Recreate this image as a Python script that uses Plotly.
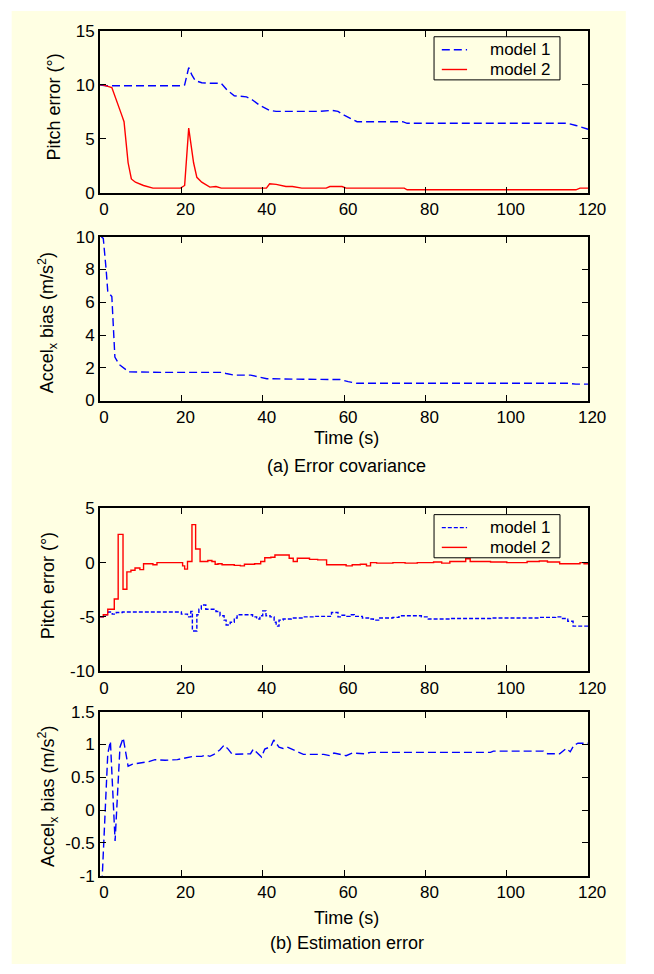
import plotly.graph_objects as go

W, H = 654, 974
CREAM = "#FFFFE3"
BLUE = "#0000FF"
RED = "#FF0000"
FONT = "Liberation Sans, Arial, sans-serif"

# ---------------- data ----------------
series_names = ["model 1", "model 2"]

# (a) Error covariance — pitch error (deg)
cov_pitch_m1_t = [0, 1.5, 5, 10, 15, 20, 20.8, 21.8, 22.6, 23.4, 25, 27, 29.8, 31.3, 33, 36,
                  37.5, 39.3, 41.7, 43.3, 46, 50, 54, 56.9, 58.5, 60, 63.2, 66, 70, 74.4, 75.5,
                  80, 90, 100, 110, 114.9, 117, 120]
cov_pitch_m1_v = [10.0, 9.92, 9.92, 9.92, 9.92, 9.92, 10.0, 11.6, 10.9, 10.4, 10.2, 10.15, 10.15,
                  9.5, 9.0, 8.9, 8.6, 8.1, 7.65, 7.55, 7.55, 7.55, 7.55, 7.65, 7.55, 7.2, 6.6,
                  6.6, 6.6, 6.6, 6.45, 6.45, 6.45, 6.45, 6.45, 6.45, 6.25, 5.9]

cov_pitch_m2_t = [0, 0.7, 2.9, 4.1, 5.25, 5.9, 6.9, 7.7, 8.7, 10.7, 13, 19.8, 20.8, 21.8, 23.0,
                  23.8, 25, 27, 28.5, 29.8, 40.9, 41.7, 43.3, 45.7, 47.3, 49.6, 55.6, 56.5,
                  59.5, 60.5, 74.8, 75.5, 117, 118, 120]
cov_pitch_m2_v = [10.0, 10.0, 9.76, 8.4, 7.3, 6.6, 2.8, 1.3, 1.0, 0.7, 0.45, 0.45, 0.7, 6.0, 2.8,
                  1.45, 1.0, 0.55, 0.6, 0.45, 0.45, 0.85, 0.8, 0.6, 0.6, 0.45, 0.45, 0.6,
                  0.6, 0.45, 0.45, 0.3, 0.3, 0.45, 0.45]

# (a) Error covariance — Accel_x bias (m/s^2)
cov_acc_t = [0.3, 0.8, 1.5, 1.9, 2.9, 3.65, 4.7, 6.0, 7.1, 15, 25, 29.8, 31, 33, 37, 39.5, 41,
             50, 57, 59, 61, 63.2, 80, 100, 115, 117, 120]
cov_acc_v = [10.0, 9.9, 8.0, 6.65, 6.35, 2.65, 2.2, 1.95, 1.75, 1.72, 1.72, 1.72, 1.65, 1.55,
             1.55, 1.4, 1.33, 1.3, 1.32, 1.28, 1.15, 1.05, 1.05, 1.05, 1.05, 1.0, 1.0]

# (b) Estimation error — pitch error (deg)
est_pitch_m1_t = [0, 1, 2, 3, 4, 5.5, 20, 21.5, 22.3, 22.7, 23.8, 24.3, 24.9, 26, 27.5, 28.5,
                  29.5, 30.5, 31, 32, 33, 33.7, 37.5, 38.5, 39.3, 40, 40.8, 41.8, 42.8, 43.3,
                  44, 45, 47, 50, 53, 56.9, 58.5, 59.5, 60.5, 61.5, 62.5, 64.5, 66, 67.2,
                  68.5, 72, 73.5, 79, 80.7, 86, 96, 104, 108, 112, 113.5, 115, 116.3, 120]
est_pitch_m1_v = [-5.0, -4.8, -4.55, -4.75, -4.6, -4.55, -4.75, -5.0, -4.5, -6.3, -4.8, -4.3,
                  -3.9, -4.3, -4.3, -4.5, -4.9, -5.3, -5.75, -5.5, -5.1, -4.8, -5.0, -5.2,
                  -4.9, -4.45, -4.9, -5.0, -5.5, -5.85, -5.3, -5.2, -5.1, -5.0, -4.95, -4.6,
                  -5.0, -4.85, -4.95, -4.8, -4.95, -5.1, -5.2, -5.3, -5.1, -5.05, -4.9,
                  -5.0, -5.2, -5.15, -5.1, -5.1, -5.05, -5.0, -5.15, -5.4, -5.85, -5.85]

est_pitch_m2_t = [0, 0.8, 1.9, 3.5, 4.46, 5.65, 6.6, 7.6, 8.6, 9.8, 10.7, 13, 14, 20.3, 20.8,
                  21.5, 22.6, 23.5, 24.6, 26.5, 27.5, 28.3, 29, 30, 33, 34.5, 35.5, 38, 39.5,
                  40.5, 42, 43, 46.5, 47.5, 48.5, 51.5, 53.5, 55.7, 60.5, 62, 64, 65.5, 66.5,
                  68, 72, 75, 78, 82, 84, 86, 89.9, 91, 96, 100, 105, 108, 110, 113, 118,
                  119, 120]
est_pitch_m2_v = [-5.0, -4.8, -4.3, -3.35, 2.6, -2.45, -0.85, -0.7, -0.5, -0.65, -0.1, -0.2,
                  0.0, -0.3, -0.6, 0.1, 3.5, 1.25, 0.1, 0.2, 0.1, -0.15, -0.1, -0.2, -0.25,
                  -0.3, -0.15, -0.1, 0.1, 0.45, 0.5, 0.7, 0.4, 0.1, 0.4, 0.3, 0.25, -0.2,
                  -0.3, -0.2, -0.15, -0.3, 0.0, -0.05, 0.0, -0.05, 0.0, 0.05, -0.05, 0.1,
                  0.35, 0.1, 0.05, 0.0, 0.1, 0.15, 0.05, -0.1, 0.0, -0.1, 0.05]

# (b) Estimation error — Accel_x bias (m/s^2)
est_acc_t = [0, 0.55, 1.9, 2.55, 3.7, 4.9, 5.7, 6.9, 8, 10, 12, 13.5, 16, 19, 21, 23, 25, 26,
             27, 28, 29.5, 30.5, 31.5, 32.5, 37, 37.7, 39.7, 40.5, 42, 42.7, 44, 45, 46, 47,
             49, 50, 55, 56.5, 57.5, 59.5, 60.5, 62, 65, 66.5, 80, 96, 96.7, 109, 110, 113,
             114.6, 115.6, 116.5, 117.5, 120]
est_acc_v = [-1.3, -1.0, 0.86, 1.05, -0.47, 0.96, 1.1, 0.67, 0.7, 0.72, 0.74, 0.77, 0.76, 0.77,
             0.8, 0.82, 0.82, 0.84, 0.82, 0.85, 0.92, 0.99, 0.93, 0.85, 0.86, 0.93, 0.81,
             0.93, 0.97, 1.07, 0.96, 0.94, 0.96, 0.93, 0.88, 0.85, 0.85, 0.83, 0.87, 0.85,
             0.83, 0.87, 0.86, 0.88, 0.88, 0.88, 0.9, 0.9, 0.86, 0.86, 0.94, 0.89, 0.99,
             1.02, 1.02]

x_ticks = [0, 20, 40, 60, 80, 100, 120]
y1_ticks = [0, 5, 10, 15]
y2_ticks = [0, 2, 4, 6, 8, 10]
y3_ticks = [-10, -5, 0, 5]
y4_ticks = [-1, -0.5, 0, 0.5, 1, 1.5]
y3_labels = ["-10", "-5", "0", "5"]
y4_labels = ["-1", "-0.5", "0", "0.5", "1", "1.5"]

# ---------------- layout helpers (pixel -> paper) ----------------
def fx(p):
    return p / W


def fy(p):
    return 1 - p / H


X0, X1 = 102, 604.7
panels = [(22.3, 187.7), (232.3, 399.3), (509.3, 675.3), (716.7, 884.0)]

fig = go.Figure()

DASH = "8px,4px"
DASH_FINE = "4px,2px"
LW = 1.4

fig.add_trace(go.Scatter(x=cov_pitch_m1_t, y=cov_pitch_m1_v, mode="lines", name=series_names[0],
                         line=dict(color=BLUE, width=LW, dash=DASH), xaxis="x", yaxis="y"))
fig.add_trace(go.Scatter(x=cov_pitch_m2_t, y=cov_pitch_m2_v, mode="lines", name=series_names[1],
                         line=dict(color=RED, width=LW), xaxis="x", yaxis="y"))
fig.add_trace(go.Scatter(x=cov_acc_t, y=cov_acc_v, mode="lines", name=series_names[0],
                         line=dict(color=BLUE, width=LW, dash=DASH), xaxis="x2", yaxis="y2"))
fig.add_trace(go.Scatter(x=est_pitch_m1_t, y=est_pitch_m1_v, mode="lines", name=series_names[0],
                         line=dict(color=BLUE, width=LW, dash=DASH_FINE, shape="hv"),
                         xaxis="x3", yaxis="y3"))
fig.add_trace(go.Scatter(x=est_pitch_m2_t, y=est_pitch_m2_v, mode="lines", name=series_names[1],
                         line=dict(color=RED, width=LW, shape="hv"),
                         xaxis="x3", yaxis="y3"))
fig.add_trace(go.Scatter(x=est_acc_t, y=est_acc_v, mode="lines", name=series_names[0],
                         line=dict(color=BLUE, width=LW, dash=DASH), xaxis="x4", yaxis="y4"))

tickfont = dict(family=FONT, size=17, color="black")
common_axis = dict(showline=True, linecolor="black", linewidth=2, mirror="ticks",
                   ticks="inside", ticklen=6, tickwidth=1.3, tickcolor="black",
                   showgrid=False, zeroline=False, tickfont=tickfont)

yranges = [[0, 15], [0, 10], [-10, 5], [-1, 1.5]]
yticks = [(y1_ticks, [str(v) for v in y1_ticks]), (y2_ticks, [str(v) for v in y2_ticks]),
          (y3_ticks, y3_labels), (y4_ticks, y4_labels)]

layout = dict(
    width=W, height=H,
    autosize=False,
    showlegend=False,
    margin=dict(l=0, r=0, t=0, b=0),
    paper_bgcolor="white",
    plot_bgcolor=CREAM,
    font=dict(family=FONT, color="black"),
)
for i, (top, bot) in enumerate(panels):
    n = "" if i == 0 else str(i + 1)
    layout["xaxis" + n] = dict(common_axis, domain=[fx(X0), fx(X1)], range=[0, 120],
                               tickvals=x_ticks, ticktext=[str(v) for v in x_ticks],
                               anchor="y" + n, ticklabelshift=4)
    tv, tt = yticks[i]
    layout["yaxis" + n] = dict(common_axis, domain=[fy(bot), fy(top)], range=yranges[i],
                               tickvals=tv, ticktext=tt, anchor="x" + n)

fig.update_layout(**layout)

# cream background panel
fig.add_shape(type="rect", xref="paper", yref="paper", x0=fx(11), x1=fx(643.5), y0=0, y1=fy(2),
              fillcolor=CREAM, line=dict(width=0), layer="below")

# legends (boxed, MATLAB style) for panels (a)-top and (b)-top
legend_font = dict(family=FONT, size=17, color="black")
for top, dash_m1 in [(28.3, DASH), (515.7, DASH_FINE)]:
    fig.add_shape(type="rect", xref="paper", yref="paper", x0=fx(446), x1=fx(575.7),
                  y0=fy(top + 44), y1=fy(top), fillcolor=CREAM,
                  line=dict(color="black", width=1), layer="above")
    rows = [(top + 13.2, BLUE, dash_m1, series_names[0]),
            (top + 33.4, RED, "solid", series_names[1])]
    for yc, col, dsh, name in rows:
        fig.add_shape(type="line", xref="paper", yref="paper", x0=fx(454), x1=fx(480),
                      y0=fy(yc), y1=fy(yc), line=dict(color=col, width=LW, dash=dsh),
                      layer="above")
        fig.add_annotation(xref="paper", yref="paper", x=fx(503), y=fy(yc), text=name,
                           showarrow=False, xanchor="left", yanchor="middle", font=legend_font,
                           borderpad=0)

ann_font = dict(family=FONT, size=18, color="black")
annotations = [
    dict(text="Pitch error (°)", x=fx(55), y=fy(100), textangle=-90),
    dict(text="Accel<sub>x</sub> bias (m/s<sup>2</sup>)", x=fx(48), y=fy(320), textangle=-90),
    dict(text="Time (s)", x=fx(356), y=fy(438), textangle=0),
    dict(text="(a) Error covariance", x=fx(356), y=fy(466), textangle=0),
    dict(text="Pitch error (°)", x=fx(48), y=fy(588), textangle=-90),
    dict(text="Accel<sub>x</sub> bias (m/s<sup>2</sup>)", x=fx(48), y=fy(803), textangle=-90),
    dict(text="Time (s)", x=fx(356), y=fy(926.7), textangle=0),
    dict(text="(b) Estimation error", x=fx(356), y=fy(953), textangle=0),
]
for a in annotations:
    fig.add_annotation(xref="paper", yref="paper", showarrow=False, xanchor="center",
                       yanchor="middle", font=ann_font, **a)

fig.write_html("out.html", config={"responsive": False},
               post_script="document.body.style.margin='0px';document.body.style.padding='0px';")
